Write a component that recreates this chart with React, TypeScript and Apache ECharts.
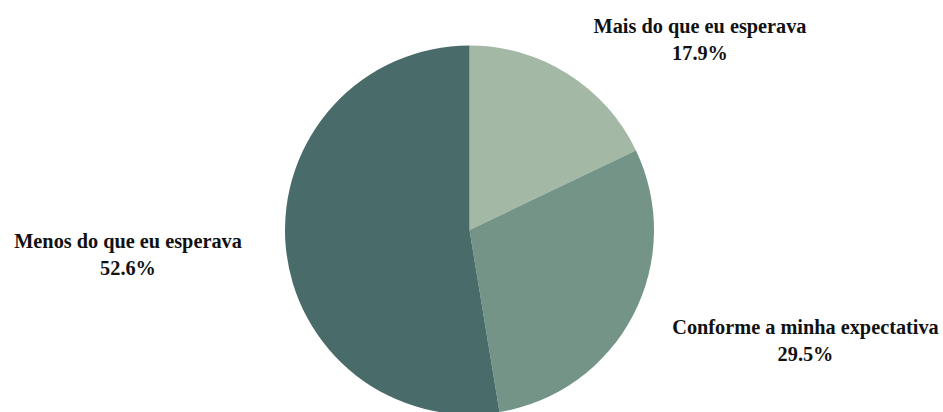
import React, { useEffect, useRef } from "react";
import * as echarts from "echarts";

const categories = [
  "Mais do que eu esperava",
  "Conforme a minha expectativa",
  "Menos do que eu esperava",
];
const values = [17.9, 29.5, 52.6];
const colors = ["#a3b8a5", "#739486", "#496b69"];

// label centre positions (px) for each slice
const labelPos: [number, number][] = [
  [700, 39],
  [805.5, 340],
  [128, 254],
];

export default function App() {
  const ref = useRef<HTMLDivElement>(null);
  useEffect(() => {
    if (!ref.current) return;
    const chart = echarts.init(ref.current, null, { renderer: "svg" });
    chart.setOption({
      animation: false,
      backgroundColor: "#ffffff",
      textStyle: { fontFamily: "'Liberation Serif', 'DejaVu Serif', 'Times New Roman', serif" },
      series: [
        {
          type: "pie",
          center: [469.5, 230],
          radius: 184.5,
          startAngle: 90,
          clockwise: true,
          avoidLabelOverlap: false,
          data: categories.map((name, i) => ({
            name,
            value: values[i],
            itemStyle: { color: colors[i] },
          })),
          label: {
            show: true,
            position: "outside",
            formatter: (p: any) => `${p.name}\n${p.value.toFixed(1)}%`,
            fontFamily: "'Liberation Serif', 'DejaVu Serif', 'Times New Roman', serif",
            fontWeight: "bold",
            fontSize: 20.3,
            lineHeight: 27,
            color: "#111111",
            align: "center",
          },
          labelLine: { show: false },
          labelLayout: (params: any) => {
            const pos = labelPos[params.dataIndex];
            return {
              x: pos[0],
              y: pos[1],
              align: "center",
              verticalAlign: "middle",
            };
          },
        },
      ],
    });
    return () => chart.dispose();
  }, []);
  return (
    <div
      ref={ref}
      style={{ position: "fixed", left: 0, top: 0, width: 943, height: 412 }}
    />
  );
}
